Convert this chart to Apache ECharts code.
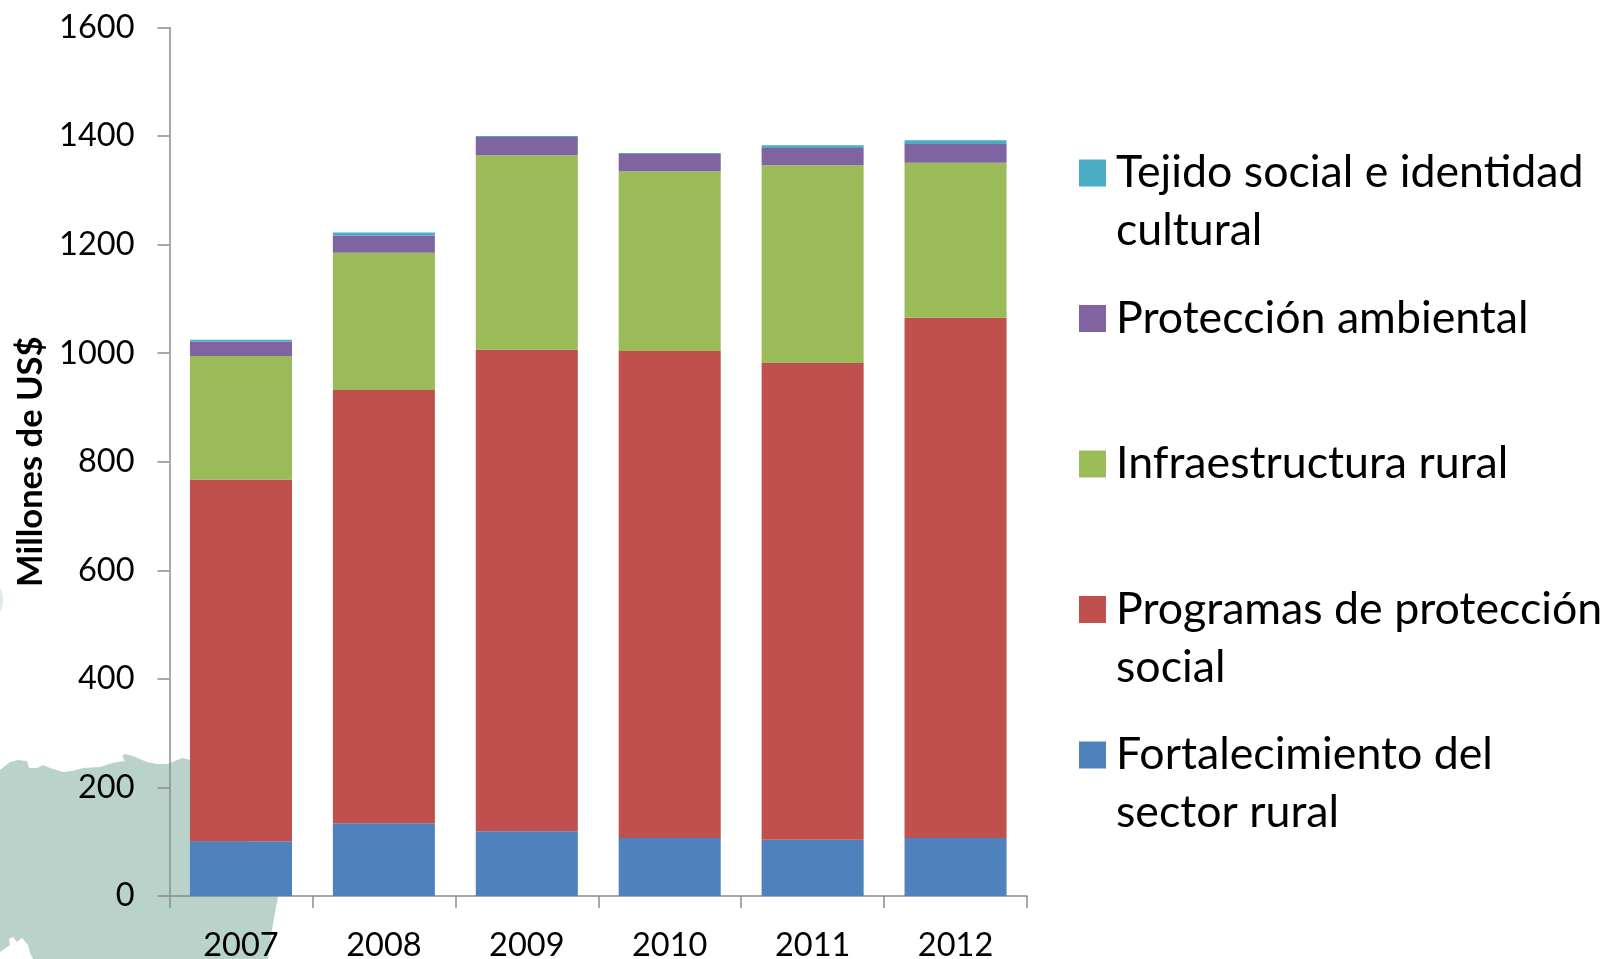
<!DOCTYPE html>
<html><head><meta charset="utf-8">
<style>html,body{margin:0;padding:0;background:#fff}#c{width:1606px;height:959px}</style>
<script src="https://cdn.jsdelivr.net/npm/echarts@6/dist/echarts.min.js"></script>
</head><body><div id="c"></div>
<script>
const years = ['2007','2008','2009','2010','2011','2012'];
const fortalecimiento = [101, 134, 119.5, 107, 103.5, 107];
const programas = [666, 798, 886.5, 897, 878.5, 958];
const infraestructura = [227.5, 253, 358.5, 331, 364, 285.5];
const proteccion = [26.5, 31, 33.5, 32, 32, 34.5];
const tejido = [3.5, 6, 2, 1.5, 5, 7];
const names = ['Tejido social e identidad cultural','Protección ambiental','Infraestructura rural','Programas de protección social','Fortalecimiento del sector rural'];
const legendLines = {
 'Tejido social e identidad cultural':['Tejido social e identidad','cultural'],
 'Protección ambiental':['Protección ambiental',' '],
 'Infraestructura rural':['Infraestructura rural',' '],
 'Programas de protección social':['Programas de protección','social'],
 'Fortalecimiento del sector rural':['Fortalecimiento del','sector rural']
};
const FONT='Lato';
const land=[[0,770],[5,766],[10,762],[18,760],[27,761],[29,768],[37,768],[43,765],[50,768],[63,772],[72,771],[83,768],[100,767],[112,763],[125,761],[122,756],[125,754],[133,756],[147,762],[157,764],[168,764],[177,760],[183,758],[190,760],[278,880],[278,897],[275,912],[272,930],[268,959],[33,959],[30,953],[28,945],[22,938],[17,942],[13,937],[9,939],[10,945],[0,952]];
const spot=[[0,588],[2,592],[3,600],[2,608],[0,612]];
const mk=(name,data,color)=>({name,type:'bar',stack:'a',data,barCategoryGap:'28.6%',itemStyle:{color},emphasis:{disabled:true}});
const chart=echarts.init(document.getElementById('c'),null,{renderer:'canvas'});
chart.setOption({
 animation:false,backgroundColor:'#fff',
 graphic:[
  {type:'polygon',silent:true,z:-1,shape:{points:land},style:{fill:'#b9d3ca'}},
  {type:'polygon',silent:true,z:-1,shape:{points:spot},style:{fill:'#dfeae6'}}
 ],
 grid:{left:169.5,right:579,top:27.4,bottom:63,containLabel:false,outerBoundsMode:'none'},
 legend:{
  orient:'vertical',left:1074,top:172.5-91.5,itemWidth:27,itemHeight:27,itemGap:-28.5,
  selectedMode:false,icon:'rect',data:names,
  formatter:n=>' \n'+legendLines[n].join('\n'),
  textStyle:{fontFamily:FONT,fontSize:44.7,lineHeight:58,color:'#000',padding:[0,0,0,5]}
 },
 xAxis:{type:'category',data:years,
  axisLine:{lineStyle:{color:'#8c8c8c',width:1.5}},
  axisTick:{show:true,length:12,lineStyle:{color:'#8c8c8c',width:1.5}},
  axisLabel:{fontFamily:FONT,fontSize:32.5,color:'#000',margin:33}},
 yAxis:{type:'value',min:0,max:1600,interval:200,
  name:'Millones de US$',nameLocation:'middle',nameGap:120,nameRotate:90,
  nameTextStyle:{fontFamily:FONT,fontWeight:'bold',fontSize:34.5,color:'#000'},
  axisLine:{show:true,lineStyle:{color:'#8c8c8c',width:1.5}},
  axisTick:{show:true,length:12,lineStyle:{color:'#8c8c8c',width:1.5}},
  splitLine:{show:false},
  axisLabel:{fontFamily:FONT,fontSize:32.5,color:'#000',margin:35,padding:[2,0,0,0],formatter:v=>String(v)}},
 series:[
  mk(names[4],fortalecimiento,'#4f81bd'),
  mk(names[3],programas,'#c0504d'),
  mk(names[2],infraestructura,'#9bbb59'),
  mk(names[1],proteccion,'#8064a2'),
  mk(names[0],tejido,'#4bacc6')
 ]
});
</script></body></html>
